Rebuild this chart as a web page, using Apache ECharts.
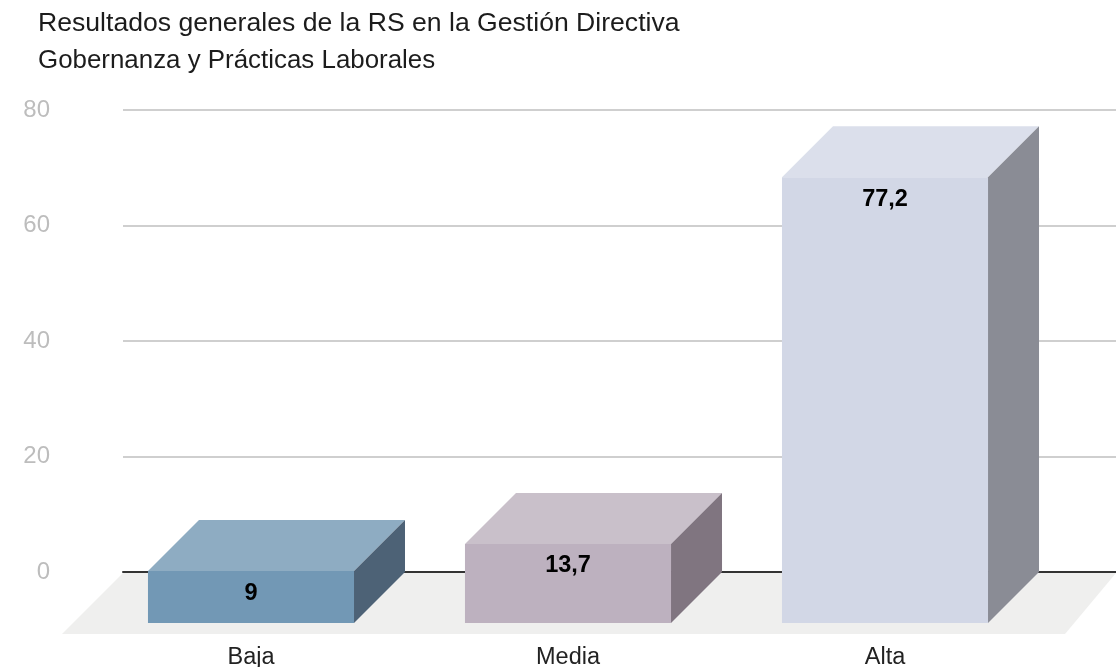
<!DOCTYPE html>
<html>
<head>
<meta charset="utf-8">
<style>html,body{margin:0;padding:0;background:#fff}#c{width:1116px;height:667px}</style>
<script src="https://cdn.jsdelivr.net/npm/echarts@6/dist/echarts.min.js"></script>
</head>
<body>
<div id="c"></div>
<script>
const categories = ['Baja', 'Media', 'Alta'];
const values = [9, 13.7, 77.2];
const yTicks = [0, 20, 40, 60, 80];
const frontColors = ['#7298b5', '#bdb1bf', '#d2d7e6'];
const topColors = ['#8eacc2', '#c9c0ca', '#dbdfeb'];
const sideColors = ['#4d6276', '#807580', '#8a8c95'];
const titleLines = ['Resultados generales de la RS en la Gestión Directiva', 'Gobernanza y Prácticas Laborales'];

const FONT = '"Liberation Sans", Arial, sans-serif';
const depthX = 51, depthY = 51, barRatio = 0.65;

const chart = echarts.init(document.getElementById('c'), null, { renderer: 'canvas' });

function renderBar(params, api) {
  const i = api.value(0);
  const v = api.value(1);
  const top = api.coord([i, v]);
  const base = api.coord([i, 0]);
  const w = api.size([1, 0])[0] * barRatio;
  const l = top[0] - w / 2, r = top[0] + w / 2;
  return {
    type: 'group',
    children: [
      { type: 'polygon', shape: { points: [[l, top[1]], [r, top[1]], [r + depthX, top[1] - depthY], [l + depthX, top[1] - depthY]] },
        style: { fill: topColors[i] } },
      { type: 'polygon', shape: { points: [[r, top[1]], [r + depthX, top[1] - depthY], [r + depthX, base[1] - depthY], [r, base[1]]] },
        style: { fill: sideColors[i] } },
      { type: 'rect', shape: { x: l, y: top[1], width: w, height: base[1] - top[1] },
        style: { fill: frontColors[i] } },
      { type: 'text', style: { x: top[0], y: top[1] + 22, text: String(v).replace('.', ','),
          fill: '#000', font: 'bold 23.5px ' + FONT, align: 'center', verticalAlign: 'middle' } }
    ]
  };
}

chart.setOption({
  animation: false,
  backgroundColor: '#fff',
  title: {
    text: '{a|' + titleLines[0] + '}\n{b|' + titleLines[1] + '}', left: 33, top: 0,
    textStyle: {
      fontFamily: FONT, fontWeight: 'normal', color: '#222', lineHeight: 37,
      rich: {
        a: { fontFamily: FONT, fontSize: 26.6, color: '#1c1c1c', lineHeight: 37 },
        b: { fontFamily: FONT, fontSize: 25.9, color: '#1c1c1c', lineHeight: 37 }
      }
    }
  },
  graphic: [{
    type: 'polygon', z: -1,
    shape: { points: [[123, 573], [1116, 573], [1065, 634], [62, 634]] },
    style: { fill: '#efefee' }
  }],
  grid: [
    { left: 123, right: 0, top: 110, height: 462, outerBoundsMode: 'none' },
    { left: 92.5, width: 951, top: 161, height: 462, outerBoundsMode: 'none' }
  ],
  xAxis: [
    { gridIndex: 0, type: 'value', min: 0, max: 1,
      axisLine: { show: true, onZero: false, lineStyle: { color: '#333', width: 2 } },
      axisTick: { show: false }, axisLabel: { show: false }, splitLine: { show: false } },
    { gridIndex: 1, type: 'category', data: categories,
      axisLine: { show: false }, axisTick: { show: false },
      axisLabel: { margin: 23, color: '#222', fontFamily: FONT, fontSize: 23.5 } }
  ],
  yAxis: [
    { gridIndex: 0, type: 'value', min: yTicks[0], max: yTicks[yTicks.length - 1], interval: yTicks[1] - yTicks[0],
      axisLine: { show: false }, axisTick: { show: false },
      axisLabel: { margin: 73, color: '#bdbdbd', fontFamily: FONT, fontSize: 24 },
      splitLine: { lineStyle: { color: '#cfcfcf', width: 2 } } },
    { gridIndex: 1, type: 'value', min: yTicks[0], max: yTicks[yTicks.length - 1], show: false }
  ],
  series: [{
    type: 'custom', xAxisIndex: 1, yAxisIndex: 1,
    renderItem: renderBar,
    encode: { x: 0, y: 1 },
    clip: false,
    data: values.map((v, i) => [i, v])
  }]
});
</script>
</body>
</html>
